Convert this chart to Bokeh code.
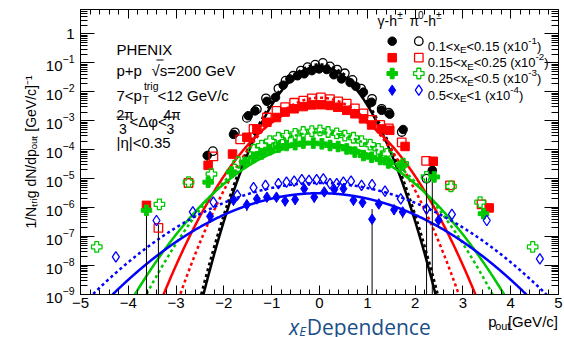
import numpy as np
from bokeh.plotting import figure
from bokeh.layouts import column
from bokeh.models import Range1d, LinearAxis, LogAxis, FixedTicker, Label
from bokeh.embed import file_html
from bokeh.resources import INLINE

# ---------------------------------------------------------------------------
# p_out distributions, 7 < pT(trig) < 12 GeV/c, each x_E bin pre-scaled
# "g" = gamma-h (filled markers), "pi" = pi0-h (open markers)
# ---------------------------------------------------------------------------
bk_g_x = [-2.35, -1.80, -1.49, -1.35, -1.10, -0.92, -0.76, -0.62, -0.46, -0.32, -0.16, -0.01,
          0.15, 0.30, 0.46, 0.64, 0.76, 0.92, 1.09, 1.30, 1.47, 1.75, 2.36]
bk_g_y = [6.3e-5, 3.4e-4, 1.5e-3, 2.2e-3, 4.7e-3, 6.5e-3, 1.7e-2, 2.8e-2, 3.6e-2, 4.2e-2, 5.4e-2, 6.2e-2,
          5.9e-2, 3.9e-2, 2.8e-2, 2.1e-2, 1.55e-2, 9.8e-3, 4.4e-3, 2.3e-3, 1.7e-3, 5.0e-4, 1.95e-5]
bk_pi_x = [-2.23, -1.77, -1.52, -1.31, -1.12, -0.86, -0.71, -0.55, -0.39, -0.25, -0.09, 0.07,
           0.22, 0.37, 0.53, 0.69, 0.87, 1.10, 1.30, 1.45, 1.72, 2.24]
bk_pi_y = [8.9e-5, 4.0e-4, 1.26e-3, 2.5e-3, 6.0e-3, 1.3e-2, 2.45e-2, 3.6e-2, 5.4e-2, 7.1e-2, 8.7e-2, 1.0e-1,
           7.6e-2, 5.9e-2, 4.4e-2, 2.6e-2, 1.3e-2, 5.75e-3, 2.6e-3, 1.9e-3, 4.1e-4, 1.0e-5]

rd_g_x = [-3.62, -2.33, -1.82, -1.52, -1.31, -1.10, -0.90, -0.72, -0.53, -0.34, -0.16, 0.03,
          0.22, 0.38, 0.57, 0.74, 0.92, 1.09, 1.30, 1.47, 1.79, 2.38, 3.55]
rd_g_y = [1.2e-6, 2.9e-5, 7.1e-5, 2.7e-4, 5.25e-4, 8.9e-4, 1.3e-3, 2.0e-3, 2.6e-3, 3.1e-3, 3.55e-3, 3.6e-3,
          3.4e-3, 2.95e-3, 2.3e-3, 1.75e-3, 1.17e-3, 7.2e-4, 5.25e-4, 4.7e-4, 1.3e-4, 4.0e-5, 9.8e-7]
rd_pi_x = [-3.37, -2.74, -2.22, -1.66, -1.38, -1.10, -0.90, -0.72, -0.53, -0.34, -0.16, 0.03,
           0.22, 0.39, 0.57, 0.74, 0.92, 1.09, 1.27, 1.45, 1.72, 2.23, 2.73, 3.39]
rd_pi_y = [2.0e-7, 7.1e-6, 5.9e-5, 2.3e-4, 5.25e-4, 1.3e-3, 2.2e-3, 2.95e-3, 4.2e-3, 5.0e-3, 6.0e-3, 6.5e-3,
           5.6e-3, 4.7e-3, 3.9e-3, 2.7e-3, 1.8e-3, 1.07e-3, 7.2e-4, 5.5e-4, 1.8e-4, 4.1e-5, 5.9e-6, 1.3e-6]

gr_g_x = [-3.62, -2.33, -1.84, -1.56, -1.38, -1.21, -1.04, -0.86, -0.69, -0.51, -0.34, -0.13,
          0.05, 0.22, 0.39, 0.57, 0.74, 0.92, 1.09, 1.27, 1.44, 1.72, 2.40, 3.43]
gr_g_y = [8.1e-7, 7.6e-6, 1.7e-5, 3.7e-5, 5.5e-5, 7.2e-5, 1.0e-4, 1.23e-4, 1.4e-4, 1.5e-4, 1.7e-4, 1.7e-4,
          1.6e-4, 1.4e-4, 1.3e-4, 1.07e-4, 8.3e-5, 6.3e-5, 5.5e-5, 4.6e-5, 3.5e-5, 2.9e-5, 1.15e-5, 6.2e-7]
gr_pi_x = [-4.66, -3.35, -2.74, -2.26, -1.70, -1.38, -1.21, -1.04, -0.86, -0.69, -0.51, -0.34, -0.16,
           0.01, 0.18, 0.36, 0.53, 0.71, 0.88, 1.06, 1.23, 1.41, 1.75, 2.24, 2.75, 3.36, 4.46]
gr_pi_y = [4.4e-8, 1.3e-6, 7.6e-6, 1.45e-5, 3.7e-5, 1.0e-4, 1.4e-4, 2.0e-4, 2.6e-4, 3.1e-4, 3.55e-4, 4.1e-4, 4.4e-4,
           4.7e-4, 4.1e-4, 3.7e-4, 3.1e-4, 2.6e-4, 2.0e-4, 1.5e-4, 1.07e-4, 7.2e-5, 3.3e-5, 1.15e-5, 5.4e-6, 1.55e-6, 4.4e-8]

bl_g_x = [-2.29, -1.80, -1.52, -1.31, -1.10, -0.90, -0.72, -0.51, -0.32, -0.11, 0.10, 0.31,
          0.50, 0.71, 0.90, 1.10, 1.24, 1.56, 1.74, 2.49]
bl_g_y = [5.0e-7, 1.8e-6, 1.26e-6, 2.0e-6, 2.3e-6, 2.3e-6, 1.7e-6, 1.9e-6, 4.5e-6, 2.3e-6, 3.5e-6, 4.2e-6,
          4.5e-6, 1.8e-6, 1.5e-6, 4.0e-7, 1.35e-6, 8.5e-7, 7.1e-7, 3.7e-7]
bl_g_rel = [0.4, 0.35, 0.4, 0.3, 0.3, 0.3, 0.35, 0.35, 0.3, 0.35, 0.3, 0.3,
            0.3, 0.35, 0.35, 0.0, 0.35, 0.35, 0.4, 0.45]
bl_pi_x = [-4.26, -3.41, -2.65, -2.22, -1.72, -1.38, -1.13, -0.86, -0.69, -0.53, -0.37, -0.22, -0.06,
           0.08, 0.22, 0.36, 0.50, 0.66, 0.88, 1.10, 1.37, 1.70, 2.24, 2.77, 3.50, 4.61]
bl_pi_y = [2.0e-8, 3.6e-7, 7.1e-7, 1.55e-6, 2.7e-6, 4.9e-6, 5.9e-6, 6.8e-6, 7.6e-6, 8.3e-6, 9.3e-6, 8.7e-6, 9.3e-6,
           9.8e-6, 6.8e-6, 6.8e-6, 7.6e-6, 8.3e-6, 5.9e-6, 6.3e-6, 3.7e-6, 2.0e-6, 9.1e-7, 5.9e-7, 3.6e-7, 1.7e-8]

# large error bars on the low-statistics points (x, low, high)
big_err_x = [-3.62, -3.37, -2.35, 1.10, 2.24, 2.36]
big_err_lo = [1e-10, 1e-10, 3.5e-5, 1e-10, 1e-10, 1e-10]
big_err_hi = [1.6e-6, 2.6e-7, 9.3e-5, 9.0e-7, 1.1e-5, 2.3e-5]

# Gaussian fits: peak height and width (GeV/c)
fit_peak = {"bk_g": 0.076, "bk_pi": 0.089, "rd_g": 3.55e-3, "rd_pi": 6.3e-3,
            "gr_g": 1.66e-4, "gr_pi": 4.0e-4, "bl_g": 3.16e-6, "bl_pi": 7.1e-6}
fit_sigma = {"bk_g": 0.403, "bk_pi": 0.409, "rd_g": 0.594, "rd_pi": 0.521,
             "gr_g": 0.788, "gr_pi": 0.713, "bl_g": 1.078, "bl_pi": 1.127}

legend_labels = [("0.1<x", "<0.15 (x10", "-1"), ("0.15<x", "<0.25 (x10", "-2"),
                 ("0.25<x", "<0.5 (x10", "-3"), ("0.5<x", "<1 (x10", "-4")]

Y_TITLE = "1/N\u209c\u1d63\u1d62g dN/dp\u2092\u1d64\u209c [GeV/c]\u207b\u00b9"

BLACK, RED, GREEN, BLUE = "#000000", "#ff0000", "#00c800", "#0000ff"
TITLE_BLUE = "#1b4e86"
FONT = "Liberation Sans"

# ---------------------------------------------------------------------------
# page geometry (page pixels): main plot, x-title strip below
# ---------------------------------------------------------------------------
W, H = 564, 337
MAIN_H = 315                # main plot height, x-title strip fills the rest
FL, FT = 80, 9              # frame left / top on the page
FR_B = 6                    # right border of the main plot
FRAME_B = 294               # frame bottom on the page
Y_LO, Y_HI = 1e-9, 7.0

p = figure(width=W, height=MAIN_H, x_range=Range1d(-5, 5), y_range=Range1d(Y_LO, Y_HI),
           y_axis_type="log", output_backend="svg", toolbar_location=None, title=None,
           min_border_left=FL, min_border_right=FR_B, min_border_top=FT,
           min_border_bottom=MAIN_H - FRAME_B,
           background_fill_color="white", border_fill_color="white",
           outline_line_color="black", outline_line_width=1)
p.grid.visible = False

decades = [10.0 ** k for k in range(-9, 1)]
minor_log = [m * 10.0 ** k for k in range(-9, 1) for m in range(2, 10)]
x_major = list(range(-5, 6))
x_minor = [round(-5 + 0.2 * i, 2) for i in range(51)]


def style_axis(ax, maj, mnr):
    ax.axis_line_color = "black"
    ax.major_tick_line_color = "black"
    ax.minor_tick_line_color = "black"
    ax.major_tick_in, ax.major_tick_out = maj, 0
    ax.minor_tick_in, ax.minor_tick_out = mnr, 0
    ax.major_label_text_font = FONT
    ax.major_label_text_color = "black"
    ax.major_label_text_font_size = "15px"


xb = p.xaxis[0]
xb.ticker = FixedTicker(ticks=x_major, minor_ticks=x_minor)
xb.major_label_overrides = {k: (f"\u2212{abs(k)}" if k < 0 else str(k)) for k in x_major}
style_axis(xb, 9, 5)
xb.major_label_standoff = 3

yl = p.yaxis[0]
yl.ticker = FixedTicker(ticks=decades, minor_ticks=minor_log)
yl.major_label_overrides = {1: "1"}
style_axis(yl, 14, 7)
yl.major_label_standoff = 6
yl.axis_label = Y_TITLE
yl.axis_label_text_font = FONT
yl.axis_label_text_font_size = "14px"
yl.axis_label_text_font_style = "normal"
yl.axis_label_text_color = "black"
yl.axis_label_standoff = 4

# tick-only mirror axes on top and right
xt = LinearAxis(ticker=FixedTicker(ticks=x_major, minor_ticks=x_minor))
style_axis(xt, 9, 5)
xt.major_label_overrides = {k: "" for k in x_major}
xt.major_label_standoff = 0
p.add_layout(xt, "above")
yr = LogAxis(ticker=FixedTicker(ticks=decades, minor_ticks=minor_log))
style_axis(yr, 14, 7)
yr.major_label_overrides = {k: "" for k in decades}
yr.major_label_standoff = 0
p.add_layout(yr, "right")

# ---- fit curves ----
xs = np.linspace(-5, 5, 1001)
curve_style = [("bk_g", BLACK, "solid"), ("bk_pi", BLACK, "3 3"),
               ("rd_g", RED, "solid"), ("rd_pi", RED, "3 3"),
               ("gr_g", GREEN, "solid"), ("gr_pi", GREEN, "3 3"),
               ("bl_g", BLUE, "solid"), ("bl_pi", BLUE, "3 3")]
for key, col, dash in curve_style:
    ys = fit_peak[key] * np.exp(-xs ** 2 / (2 * fit_sigma[key] ** 2))
    p.line(xs, ys, line_color=col, line_width=2.5, line_dash=dash)

# ---- error bars ----
p.segment(x0=big_err_x, y0=big_err_lo, x1=big_err_x, y1=big_err_hi, line_color="black", line_width=1)
bl_lo = [y * (1 - r) for y, r in zip(bl_g_y, bl_g_rel)]
bl_hi = [y * (1 + r) for y, r in zip(bl_g_y, bl_g_rel)]
p.segment(x0=bl_g_x, y0=bl_lo, x1=bl_g_x, y1=bl_hi, line_color="black", line_width=1)

# ---- markers ----
marker_style = {
    "bk": dict(marker="circle", size=8.5, color=BLACK),
    "rd": dict(marker="square", size=8.5, color=RED),
    "gr": dict(marker="plus", size=10.5, color=GREEN),
    "bl": dict(marker="diamond", size=10.5, color=BLUE),
}
series = [("bk", bk_g_x, bk_g_y, bk_pi_x, bk_pi_y), ("rd", rd_g_x, rd_g_y, rd_pi_x, rd_pi_y),
          ("gr", gr_g_x, gr_g_y, gr_pi_x, gr_pi_y), ("bl", bl_g_x, bl_g_y, bl_pi_x, bl_pi_y)]
for key, gx, gy, px_, py_ in series:
    st = marker_style[key]
    p.scatter(px_, py_, marker=st["marker"], size=st["size"], fill_color="white",
              fill_alpha=0, line_color=st["color"], line_width=1.3)
    p.scatter(gx, gy, marker=st["marker"], size=st["size"], fill_color=st["color"],
              line_color=st["color"], line_width=1)

# ---- x-title strip below the plot: frame fills the strip, data units = pixels ----
xtitle = figure(width=W, height=H - MAIN_H, x_range=Range1d(0, W), y_range=Range1d(0, H - MAIN_H),
                output_backend="svg", toolbar_location=None, title=None, min_border=0,
                x_axis_location=None, y_axis_location=None, outline_line_color=None,
                background_fill_color="white", border_fill_color="white")
xtitle.grid.visible = False
XSTRIP = (xtitle, 0, H)


# ---------------------------------------------------------------------------
# text helpers (page pixel positions, y down from the top)
# ---------------------------------------------------------------------------
def to_data(cx, cy):
    x = -5 + (cx - FL) / (W - FL - FR_B) * 10
    lo, hi = np.log10(Y_LO), np.log10(Y_HI)
    y = 10 ** (hi - (cy - FT) / (FRAME_B - FT) * (hi - lo))
    return x, y


CW = {' ': .278, '(': .333, ')': .333, '+': .584, '-': .333, '.': .278, '/': .278, '<': .584,
      '=': .584, '[': .278, ']': .278, '|': .26, 'E': .667, 'G': .778, 'H': .722, 'I': .278,
      'N': .722, 'P': .667, 'T': .611, 'V': .667, 'X': .667, 'c': .5, 'd': .556, 'e': .556,
      'g': .556, 'h': .556, 'i': .222, 'n': .556, 'o': .556, 'p': .556, 'r': .333, 's': .5,
      't': .278, 'u': .556, 'x': .5, '\u03b3': .52, '\u03c0': .6, '\u00b1': .584,
      '\u221a': .55, '\u0394': .668, '\u03c6': .66, '\u03b7': .556}


def twidth(s, size):
    return sum(CW.get(ch, .556) for ch in s) * size


def label(text, cx, cy, size=15, align="left", color="black", font=FONT, style="normal", fig=None):
    common = dict(text=text, text_align=align, text_baseline="alphabetic",
                  text_font_size=f"{size}px", text_color=color, text_font=font,
                  text_font_style=style)
    if fig is None:
        p.add_layout(Label(x=cx - FL, y=FRAME_B - cy, x_units="screen", y_units="screen", **common))
    else:
        f, x0, ybot = fig
        f.add_layout(Label(x=cx - x0, y=ybot - cy, **common))


def run(pieces, cx, cy, size=15, color="black", scale=0.72, fig=None):
    """Draw a run of normal / sub / sup pieces, left to right."""
    pos = 0.0
    for txt, kind in pieces:
        s = size if kind == "n" else round(size * scale, 1)
        shift = 0.0 if kind == "n" else (0.28 * size if kind == "sub" else -0.42 * size)
        label(txt, cx + pos, cy + shift, s, color=color, fig=fig)
        pos += twidth(txt, s)
    return pos


def hline(x0, x1, cy):
    a, yy = to_data(x0, cy)
    b, _ = to_data(x1, cy)
    p.segment(x0=[a], y0=[yy], x1=[b], y1=[yy], line_color="black", line_width=1.2)


# ---- info block ----
label("PHENIX", 116, 49)
label("p+p", 116, 69.5)
label("\u221as=200 GeV", 151, 69.5)
hline(156, 163, 59.5)
w = run([("7<p", "n")], 116, 95)
label("T", 116 + w + 0.5, 99, 10.5)
label("trig", 116 + w + 2, 85, 10.5)
label("<12 GeV/c", 157, 95)
label("2\u03c0", 116, 114, 14)
hline(116, 129, 116.5)
label("3", 122.5, 128, 14, align="center")
label("<\u0394\u03c6<", 129, 121)
label("4\u03c0", 163, 114, 14)
hline(163, 177, 116.5)
label("3", 170, 128, 14, align="center")
label("|\u03b7|<0.35", 116, 141.5)

# ---- legend ----
run([("\u03b3-h", "n"), ("\u00b1", "sup")], 377, 20.5, 14)
run([("\u03c0", "n"), ("0", "sup"), ("-h", "n"), ("\u00b1", "sup")], 409, 20.5, 14)
rows_y = [40.7, 57.2, 73.0, 89.7]
leg_fill = [("circle", BLACK, 8.5), ("square", RED, 8.5), ("plus", GREEN, 10.5), ("diamond", BLUE, 10.5)]
for (mk, col, sz), ry, (a, b, e) in zip(leg_fill, rows_y, legend_labels):
    fx, fy = to_data(391.7, ry)
    ox, oy = to_data(418.3, ry)
    p.scatter([fx], [fy], marker=mk, size=sz, fill_color=col, line_color=col)
    p.scatter([ox], [oy], marker=mk, size=sz, fill_color="white", fill_alpha=0, line_color=col, line_width=1.3)
    run([(a, "n"), ("E", "sub"), (b, "n"), (e, "sup"), (")", "n")], 427.3, ry + 5, 13, scale=0.75)

# ---- x titles ----
run([("p", "n"), ("out", "sub"), (" [GeV/c]", "n")], 481, 321, 15, fig=XSTRIP)
label("x", 246, 326, 21, color=TITLE_BLUE, font="Open Sans", style="italic", fig=XSTRIP)
label("E", 258, 330, 13, color=TITLE_BLUE, font="Open Sans", style="italic", fig=XSTRIP)
label("Dependence", 267, 326, 21, color=TITLE_BLUE, font="Open Sans", fig=XSTRIP)

page = column(p, xtitle, spacing=0)
open("out.html", "w").write(file_html(page, INLINE))
